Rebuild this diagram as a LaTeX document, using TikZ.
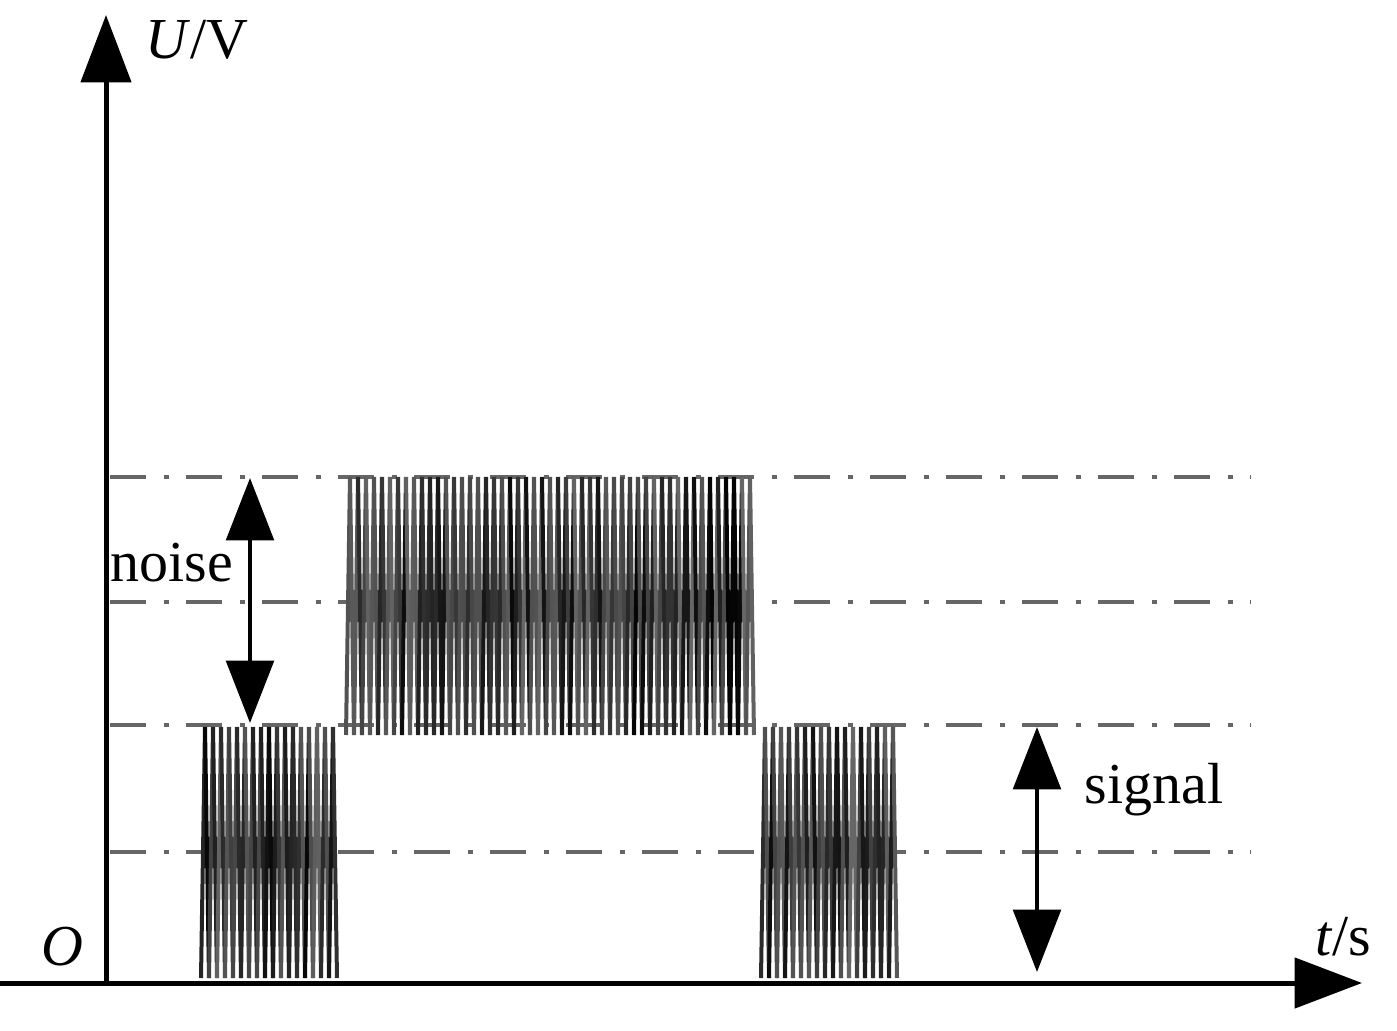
\documentclass[tikz,border=0pt]{standalone}
\usepackage{fontspec}
\setmainfont{Liberation Serif}
\usetikzlibrary{arrows, arrows.meta}

\tikzset{
	axisarrow/.style={-{Triangle[length=1.35cm,width=1cm]},line width=0.1cm},
	dimarrow/.style={{Triangle[length=1.25cm,width=0.95cm]}-{Triangle[length=1.25cm,width=0.95cm]},line width=0.09cm},
	levelline/.style={black!60,line width=0.08cm,dash pattern=on 0.72cm off 0.36cm on 0.1cm off 0.34cm},
	lbl/.style={font=\fontsize{33}{37}\selectfont,inner sep=0pt},
}
% noise burst: left x, number of periods, top y, bottom y
\newcommand{\noiseburst}[4]{%
	\foreach \i in {1,...,#2}{
		\pgfmathsetmacro{\xa}{#1+(\i-1)*8}
		\pgfmathsetmacro{\sa}{int(60+40*rnd)}
		\pgfmathsetmacro{\sb}{int(60+40*rnd)}
		\draw[black!\sa,line width=0.08cm] (\xa,#4) -- (\xa+4,#3);
		\draw[black!\sb,line width=0.08cm] (\xa+4,#3) -- (\xa+8,#4);
	}
}

\begin{document}
\begin{tikzpicture}[x=0.02cm,y=-0.02cm]
	\useasboundingbox (0,0) rectangle (1397,1031);
	\pgfmathsetseed{11}
	
	%level lines
	\foreach \lv in {477,602,725,852}{
		\draw[levelline] (110,\lv) -- (1250,\lv);
	}
	
	%noise bursts
	\noiseburst{201}{17}{727}{978}
	\noiseburst{346}{51}{477}{735}
	\noiseburst{761}{17}{727}{978}
	
	%axes
	\coordinate (origin) at (106,983);
	\coordinate (ytip) at (106,15);
	\coordinate (xstart) at (0,983);
	\coordinate (xtip) at (1362,983);
	\draw[axisarrow] (origin) -- (ytip);
	\draw[axisarrow] (xstart) -- (xtip);
	
	%double arrows
	\coordinate (noisetop) at (250,478);
	\coordinate (noisebot) at (250,723);
	\coordinate (signaltop) at (1037,727);
	\coordinate (signalbot) at (1037,972);
	\draw[dimarrow] (noisetop) -- (noisebot);
	\draw[dimarrow] (signaltop) -- (signalbot);
	
	%labels
	\node[lbl] (ulabel) at (197,40) {\textit{U}/V};
	\node[lbl] (olabel) at (62,947) {\textit{O}};
	\node[lbl] (tlabel) at (1343,937) {\textit{t}/s};
	\node[lbl] (noiselabel) at (172,563) {noise};
	\node[lbl] (signallabel) at (1154,790) {signal};
\end{tikzpicture}
\end{document}
